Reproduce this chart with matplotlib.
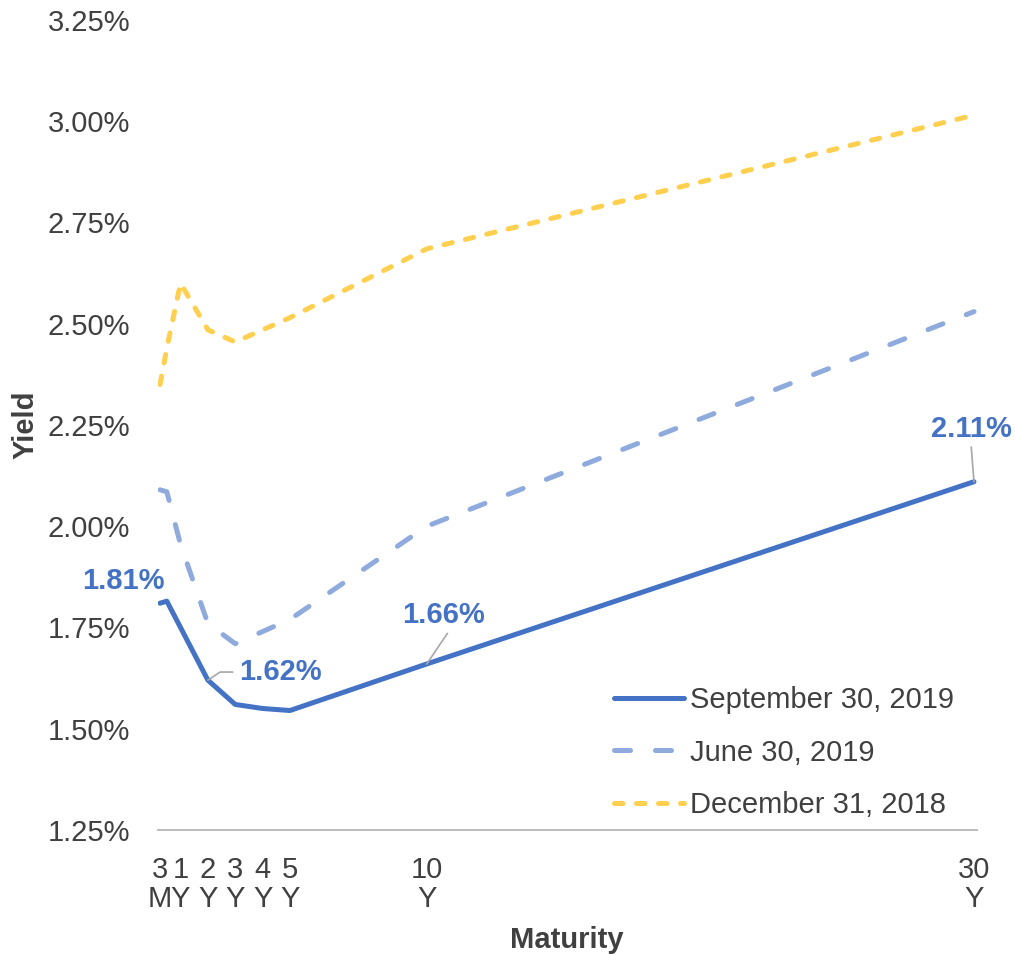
import numpy as np
import matplotlib
matplotlib.use('Agg')
import matplotlib.pyplot as plt

plt.rcParams['font.family'] = ['Liberation Sans', 'DejaVu Sans']

# maturities in years
maturity = [0.25, 0.5, 1, 2, 3, 4, 5, 10, 30]
tick_pos = [0.25, 1, 2, 3, 4, 5, 10, 30]
tick_lbl = ['3\nM', '1\nY', '2\nY', '3\nY', '4\nY', '5\nY', '10\nY', '30\nY']

sep19 = [1.81, 1.815, 1.75, 1.62, 1.56, 1.55, 1.545, 1.66, 2.11]
jun19 = [2.09, 2.085, 1.955, 1.76, 1.71, 1.74, 1.77, 2.00, 2.53]
dec18 = [2.35, 2.44, 2.60, 2.485, 2.455, 2.485, 2.515, 2.685, 3.015]

# (index, text x, text y) for labelled points
callouts = [(0, -1.1, 1.865), (3, 4.65, 1.64), (7, 10.6, 1.78), (8, 29.9, 2.24)]

c_sep = '#4472C4'
c_jun = '#8FAADC'
c_dec = '#FFD04F'
txt = '#404040'
fs = 21

fig = plt.figure(figsize=(10.15, 9.55), dpi=100)
ax = fig.add_axes([158/1015, 1-830/955, (977-158)/1015, 810/955])

ax.plot(maturity, dec18, color=c_dec, lw=3.6, dashes=(1.7, 2.7),
        dash_capstyle='round', solid_joinstyle='round', label='December 31, 2018')
ax.plot(maturity, jun19, color=c_jun, lw=3.6, dashes=(3.2, 5.0),
        dash_capstyle='round', label='June 30, 2019')
ax.plot(maturity, sep19, color=c_sep, lw=3.6, solid_capstyle='round',
        solid_joinstyle='round', label='September 30, 2019')

for i, tx, ty in callouts:
    ax.annotate('%.2f%%' % sep19[i], xy=(maturity[i], sep19[i]), xytext=(tx, ty),
                ha='center', va='center', fontsize=fs, fontweight='bold', color=c_sep,
                annotation_clip=False)

# leader lines
ax.plot([2.0, 2.45, 2.9], [1.62, 1.64, 1.64], color='#A6A6A6', lw=1.2, clip_on=False)
ax.plot([10.0, 10.75], [1.66, 1.735], color='#A6A6A6', lw=1.2)
ax.plot([30.0, 29.9], [2.11, 2.195], color='#A6A6A6', lw=1.2, clip_on=False)

ax.set_xlim(0.177, 30.11)
ax.set_ylim(1.25, 3.25)
ax.set_yticks(np.arange(1.25, 3.26, 0.25))
ax.set_yticklabels(['%.2f%%' % v for v in np.arange(1.25, 3.26, 0.25)])
ax.set_xticks(tick_pos)
ax.set_xticklabels(tick_lbl, linespacing=1.02)
ax.tick_params(axis='both', length=0, labelsize=fs, labelcolor=txt)
ax.tick_params(axis='x', pad=19)
ax.tick_params(axis='y', pad=20)

for s in ['top', 'right', 'left']:
    ax.spines[s].set_visible(False)
ax.spines['bottom'].set_color('#BFBFBF')
ax.spines['bottom'].set_linewidth(1.5)

fig.text(567/1015, 1-940/955, 'Maturity', fontsize=fs, fontweight='bold',
         color=txt, ha='center', va='center')
ax.set_ylabel('Yield', fontsize=fs, fontweight='bold', color=txt, labelpad=6)

h, l = ax.get_legend_handles_labels()
leg = ax.legend(h[::-1], l[::-1], loc='lower right', bbox_to_anchor=(0.988, -0.003),
                frameon=False, fontsize=fs, handlelength=2.4, handletextpad=0.2,
                labelspacing=0.85, borderaxespad=0.05)
for t in leg.get_texts():
    t.set_color(txt)

fig.savefig('out.png', dpi=100)
